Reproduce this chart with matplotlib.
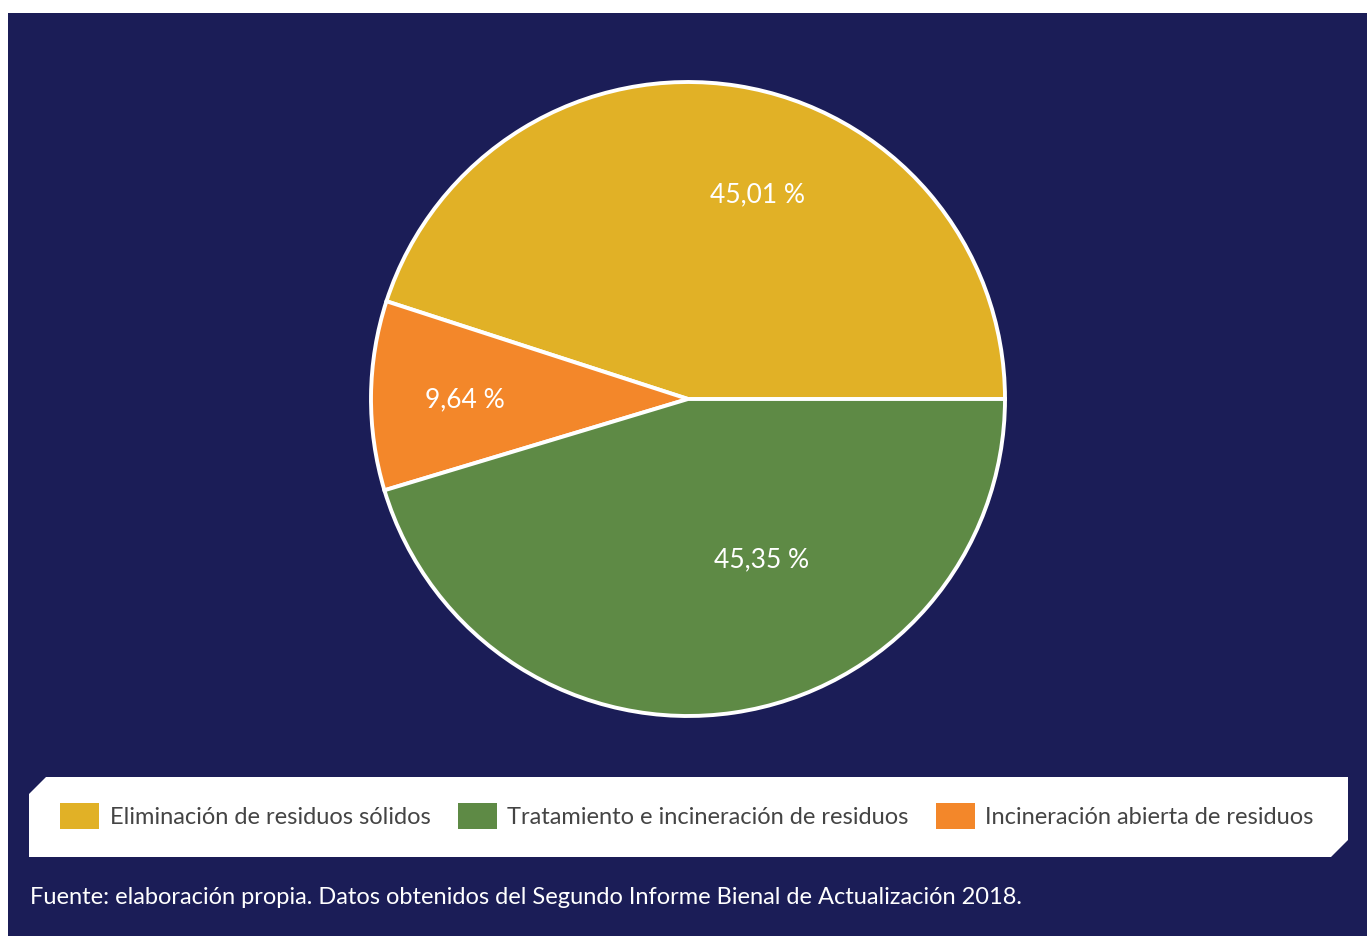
import matplotlib.pyplot as plt
from matplotlib.patches import Rectangle, Polygon, Patch

# Data
categories = ['Eliminación de residuos sólidos',
              'Tratamiento e incineración de residuos',
              'Incineración abierta de residuos']
shares = [45.01, 45.35, 9.64]
labels = ['45,01 %', '45,35 %', '9,64 %']
colors = ['#E1B126', '#5E8A45', '#F3872A']

# drawing order around the pie (counter-clockwise from 3 o'clock)
pie_order = [0, 2, 1]
# label positions (fraction of radius) for each category
label_pos = [(0.218, 0.645), (0.233, -0.508), (-0.703, -0.004)]

source = 'Fuente: elaboración propia. Datos obtenidos del Segundo Informe Bienal de Actualización 2018.'

plt.rcParams['font.family'] = ['Lato', 'DejaVu Sans']

W, H = 1367, 936
fig = plt.figure(figsize=(W / 100, H / 100), dpi=100, facecolor='white')

# navy background panel
fig.patches.append(Rectangle((8 / W, 0), 1 - 8 / W, 1 - 13 / H, transform=fig.transFigure,
                             facecolor='#1B1D57', edgecolor='none', zorder=-2))

# pie axes
cx, cy, r = 688, 936 - 399, 317
half = 322
ax = fig.add_axes([(cx - half) / W, (cy - half) / H, 2 * half / W, 2 * half / H])
ax.set_zorder(2)
ax.set_facecolor('none')
ax.pie([shares[i] for i in pie_order], colors=[colors[i] for i in pie_order],
       startangle=0, counterclock=True, radius=1,
       wedgeprops=dict(edgecolor='white', linewidth=2.8))
lim = half / r
ax.set_xlim(-lim, lim)
ax.set_ylim(-lim, lim)
ax.set_aspect('equal')
ax.axis('off')

for (x, y), lab in zip(label_pos, labels):
    ax.text(x, y, lab, color='white', fontsize=19, ha='center', va='center')

# legend box with chamfered corners
x0, x1 = 29 / W, 1348 / W
y0, y1 = 1 - 857 / H, 1 - 777 / H
cxw, cyh = 17 / W, 17 / H
box = Polygon([(x0 + cxw, y1), (x1, y1), (x1, y0 + cyh), (x1 - cxw, y0),
               (x0, y0), (x0, y1 - cyh)], closed=True, transform=fig.transFigure,
              facecolor='white', edgecolor='none', zorder=-1)
fig.patches.append(box)

handles = [Patch(facecolor=c, edgecolor='none') for c in colors]
leg = fig.legend(handles, categories, loc='center', bbox_to_anchor=(687 / W, 1 - 816 / H),
                 ncol=3, frameon=False, fontsize=17, labelcolor='#444444',
                 handlelength=1.65, handleheight=1.35, handletextpad=0.45, columnspacing=1.15)
leg.set_zorder(3)

fig.text(30 / W, 1 - 897 / H, source, color='white', fontsize=17, ha='left', va='center')

fig.savefig('out.png', dpi=100, facecolor=fig.get_facecolor())
